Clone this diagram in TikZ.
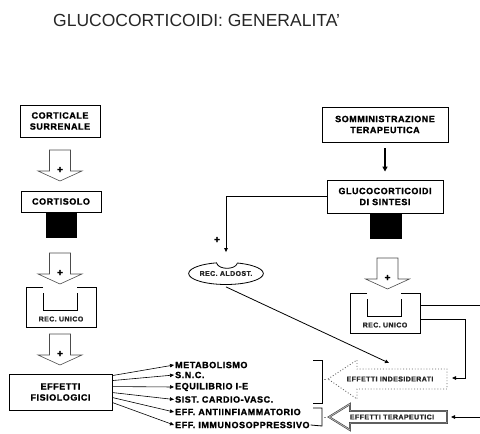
\documentclass[tikz,border=0pt]{standalone}
\usepackage{fontspec}
\setmainfont{Liberation Sans}
\newfontfamily\labf[LetterSpace=6, BoldFeatures={FakeBold=1.6}]{Liberation Sans}
\usetikzlibrary{arrows.meta,shapes.geometric}
\tikzset{
  box/.style={draw, line width=0.9pt, align=center, inner sep=0pt, font=\labf\bfseries\fontsize{9}{11}\selectfont},
  item/.style={anchor=west, inner sep=1pt, font=\labf\bfseries\fontsize{9}{11}\selectfont},
  small/.style={inner sep=0pt, font=\labf\bfseries\fontsize{7}{8}\selectfont, text=black!85},
  plus/.style={inner sep=0pt, font=\labf\bfseries\fontsize{10}{10}\selectfont},
  harrow/.style={draw=black!70, line width=0.6pt, fill=white},
  conn/.style={line width=0.8pt},
  fan/.style={line width=0.6pt},
  tipa/.style={-{Triangle[length=4pt,width=3.5pt]}},
  block/.style={fill=black, draw=none, inner sep=0pt},
  hollowdown/.pic={
    \draw[harrow] (-10.5,0) -- (-10.5,21) -- (-22,21) -- (0,31) -- (22,21) -- (10.5,21) -- (10.5,0) -- cycle;
    \node[plus] at (0,20) {+};
  },
  receptor/.pic={
    \node[minimum width=70pt, minimum height=40pt, inner sep=0pt, anchor=north west] (-box) at (0,0) {};
    \draw[line width=0.8pt] (17,0) -- (0,0) -- (0,40) -- (70,40) -- (70,0) -- (51,0);
    \draw[line width=0.8pt] (17,6) -- (17,23) -- (51,23) -- (51,6);
    \node[small] (-lab) at (35,32) {REC. UNICO};
  }
}
\begin{document}
\begin{tikzpicture}[x=1pt,y=-1pt]
\useasboundingbox (0,0) rectangle (480,434);
\clip (0,0) rectangle (480,434);

% title
\node[anchor=base west, inner sep=0pt, text=black!85, font=\fontsize{17.5}{20}\selectfont] (title) at (53,26) {GLUCOCORTICOIDI: GENERALITA'};

% left column
\node[box, minimum width=80pt, minimum height=32pt] (cortsur) at (60,121) {CORTICALE\\SURRENALE};
\pic at (60,150) {hollowdown};
\node[box, minimum width=80pt, minimum height=21pt] (cortisolo) at (61,201.5) {CORTISOLO};
\node[block, minimum width=31pt, minimum height=25pt, anchor=north] (blkL) at (cortisolo.south) {};
\pic at (60,253) {hollowdown};
\pic (recL) at (26,287) {receptor};
\pic at (60,334) {hollowdown};
\node[box, minimum width=103pt, minimum height=36pt] (effis) at (60.5,392) {EFFETTI\\FISIOLOGICI};

% right column
\node[box, minimum width=126pt, minimum height=35pt] (somm) at (385,124.5) {SOMMINISTRAZIONE\\TERAPEUTICA};
\node[box, minimum width=116pt, minimum height=33pt] (gluco) at (385,196.5) {GLUCOCORTICOIDI\\DI SINTESI};
\draw[line width=1.2pt, -{Triangle[length=5pt,width=5pt]}, shorten <=6pt, shorten >=8pt] (somm) -- (gluco);
\node[block, minimum width=32pt, minimum height=26pt, anchor=north] (blkR) at (386,213) {};
\pic at (387.5,258) {hollowdown};
\pic (recR) at (350,293) {receptor};

% aldosterone receptor
\node[draw, ellipse, line width=0.8pt, minimum width=72pt, minimum height=22pt, small] (aldost) at (226,273.5) {REC. ALDOST.};
\fill[white] (217,260) -- (217,263) .. controls (219,270) and (235,270) .. (237,263) -- (237,260) -- cycle;
\draw[line width=0.8pt] (216.6,263.2) .. controls (219,270) and (235,270) .. (237.4,263.3);
\draw[conn, tipa] (gluco.west) -| ([yshift=10pt]aldost.north);
\node[plus] (plusA) at (217,240) {+};

% effect arrows
\draw[dotted, draw=black!60, line width=0.9pt, fill=white] (328,379) -- (357,360) -- (357,369) -- (447,369) -- (447,389) -- (357,389) -- (357,399) -- cycle;
\node[small] (indes) at (390,379) {EFFETTI INDESIDERATI};
\draw[draw=black!80, double=black!30, double distance=0.9pt, line width=0.5pt, fill=white] (329,417) -- (350,404) -- (350,411) -- (447,411) -- (447,423) -- (350,423) -- (350,430) -- cycle;
\node[small] (terap) at (392,417) {EFFETTI TERAPEUTICI};

\coordinate (indtop) at (389,363);
\coordinate (indR) at (452,378);
\coordinate (bendI) at (465,378);
\coordinate (terR) at (451,417);
\coordinate (offR) at (486,417);
\draw[conn, tipa] ([yshift=-2pt]aldost.south) -- (indtop);
\draw[conn, tipa] ([yshift=-26pt]recR-box.north east) -| (bendI) -- (indR);
\draw[conn, tipa] ([yshift=-12pt]recR-box.north east) -| (offR) -- (terR);

% list of effects
\node[item] (i1) at (174,365) {METABOLISMO};
\node[item] (i2) at (174,375) {S.N.C.};
\node[item] (i3) at (174,387) {EQUILIBRIO I-E};
\node[item] (i4) at (174,399.5) {SIST. CARDIO-VASC.};
\node[item] (i5) at (174,412) {EFF. ANTIINFIAMMATORIO};
\node[item] (i6) at (174,425) {EFF. IMMUNOSOPPRESSIVO};
\draw[fan, tipa] ([yshift=-2pt]effis.north east) -- (i1.west);
\draw[fan, tipa] ([yshift=-7pt]effis.north east) -- (i2.west);
\draw[fan, tipa] ([yshift=-13pt]effis.north east) -- (i3.west);
\draw[fan, tipa] ([yshift=-19pt]effis.north east) -- (i4.west);
\draw[fan, tipa] ([yshift=-24pt]effis.north east) -- (i5.west);
\draw[fan, tipa] ([yshift=-29pt]effis.north east) -- (i6.west);

% brackets
\draw[line width=0.8pt] (313,360) -- (322,360) -- (322,403) -- (313,403);
\draw[line width=0.8pt] (313,408) -- (322,408) -- (322,426) -- (i6.east);
\draw[black!45, line width=0.4pt] (324,379) -- (326,379);
\draw[black!45, line width=0.4pt] (324,417) -- (326,417);
\end{tikzpicture}
\end{document}
